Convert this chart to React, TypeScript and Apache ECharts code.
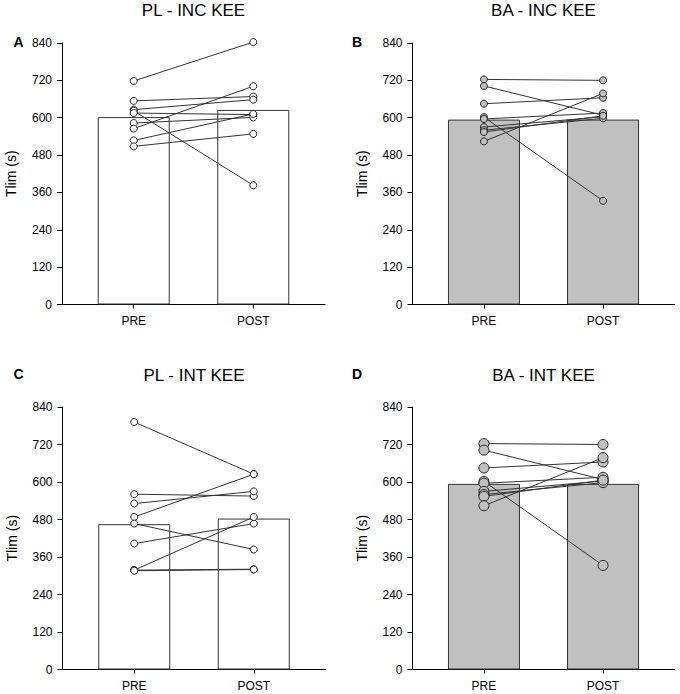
import React, { useEffect, useRef } from "react";
import * as echarts from "echarts";

const categories = ["PRE", "POST"];
const panelTitles = ["PL - INC KEE", "BA - INC KEE", "PL - INT KEE", "BA - INT KEE"];
const panelLetters = ["A", "B", "C", "D"];
const yAxisName = "Tlim (s)";

// Panel A: PL - INC KEE
const plIncPre = [718, 654, 626, 622, 615, 583, 565, 527, 508];
const plIncPost = [843, 668, 658, 383, 610, 601, 701, 612, 548];
const plIncMeans = [602, 625];
// Panel B: BA - INC KEE
const baIncPre = [723, 702, 645, 602, 596, 570, 560, 554, 524];
const baIncPost = [720, 608, 664, 333, 615, 603, 598, 606, 678];
const baIncMeans = [594, 594];
// Panel C: PL - INT KEE
const plIntPre = [792, 561, 531, 488, 467, 403, 318, 318, 316];
const plIntPost = [625, 555, 570, 625, 384, 467, 488, 321, 320];
const plIntMeans = [465, 483];
// Panel D: BA - INT KEE
const baIntPre = [723, 702, 645, 602, 596, 570, 560, 554, 524];
const baIntPost = [720, 608, 664, 333, 615, 603, 598, 606, 678];
const baIntMeans = [594, 594];

const FONT = "'Liberation Sans', Arial, sans-serif";

const panels = [
  { pre: plIncPre, post: plIncPost, means: plIncMeans, fill: "#ffffff", marker: "#ffffff", size: 7, grid: { left: 62, top: 43, width: 263, height: 261.5 }, titleY: 10, letterY: 42 },
  { pre: baIncPre, post: baIncPost, means: baIncMeans, fill: "#c0c0c0", marker: "#c0c0c0", size: 7, grid: { left: 412.5, top: 43, width: 262, height: 261.5 }, titleY: 10, letterY: 42 },
  { pre: plIntPre, post: plIntPost, means: plIntMeans, fill: "#ffffff", marker: "#ffffff", size: 7, grid: { left: 62.5, top: 407, width: 263, height: 262.5 }, titleY: 375, letterY: 374 },
  { pre: baIntPre, post: baIntPost, means: baIntMeans, fill: "#c0c0c0", marker: "#c0c0c0", size: 10, grid: { left: 412.5, top: 407, width: 262, height: 262.5 }, titleY: 375, letterY: 374 },
];

function buildOption() {
  const grid: any[] = [];
  const xAxis: any[] = [];
  const yAxis: any[] = [];
  const series: any[] = [];
  const graphic: any[] = [];

  panels.forEach((p, i) => {
    grid.push({ ...p.grid, containLabel: false });
    xAxis.push({
      type: "value",
      gridIndex: i,
      min: 0.4,
      max: 2.6,
      splitLine: { show: false },
      axisLine: { show: true, onZero: false, lineStyle: { color: "#000", width: 1 } },
      axisTick: { show: true, customValues: [1, 2], length: 4, lineStyle: { color: "#000" } },
      axisLabel: {
        customValues: [1, 2],
        formatter: (v: number) => categories[Math.round(v) - 1] || "",
        margin: 10,
        fontSize: 12,
        color: "#000",
        fontFamily: FONT,
      },
    });
    yAxis.push({
      type: "value",
      gridIndex: i,
      min: 0,
      max: 840,
      interval: 120,
      name: yAxisName,
      nameLocation: "middle",
      nameGap: 44,
      nameTextStyle: { fontSize: 14, color: "#000", fontFamily: FONT },
      splitLine: { show: false },
      axisLine: { show: true, onZero: false, lineStyle: { color: "#000", width: 1 } },
      axisTick: { show: true, length: 5, lineStyle: { color: "#000" } },
      axisLabel: { margin: 10, fontSize: 12, color: "#000", fontFamily: FONT },
    });
    series.push({
      type: "bar",
      xAxisIndex: i,
      yAxisIndex: i,
      data: p.means.map((m, k) => [k + 1, m]),
      barWidth: 72,
      itemStyle: { color: p.fill, borderColor: "#333", borderWidth: 1 },
      silent: true,
      z: 1,
    });
    p.pre.forEach((v, j) => {
      series.push({
        type: "line",
        xAxisIndex: i,
        yAxisIndex: i,
        data: [
          [1, v],
          [2, p.post[j]],
        ],
        symbol: "circle",
        symbolSize: p.size,
        showSymbol: true,
        showAllSymbol: true,
        clip: false,
        itemStyle: { color: p.marker, borderColor: "#222", borderWidth: 1 },
        lineStyle: { color: "#333", width: 1 },
        silent: true,
        z: 3,
      });
    });
    const cx = p.grid.left + p.grid.width / 2;
    graphic.push({
      type: "text",
      x: cx,
      y: p.titleY,
      style: {
        text: panelTitles[i],
        fill: "#000",
        font: `17px ${FONT}`,
        textAlign: "center",
        textVerticalAlign: "middle",
        align: "center",
        verticalAlign: "middle",
      },
    });
    graphic.push({
      type: "text",
      x: i % 2 === 0 ? 18.5 : 357,
      y: p.letterY,
      style: {
        text: panelLetters[i],
        fill: "#000",
        font: `bold 14px ${FONT}`,
        textAlign: "center",
        textVerticalAlign: "middle",
        align: "center",
        verticalAlign: "middle",
      },
    });
  });

  return {
    animation: false,
    backgroundColor: "#ffffff",
    textStyle: { fontFamily: FONT },
    grid,
    xAxis,
    yAxis,
    series,
    graphic,
  };
}

export default function App() {
  const ref = useRef<HTMLDivElement>(null);
  useEffect(() => {
    document.body.style.margin = "0";
    if (!ref.current) return;
    const chart = echarts.init(ref.current, null, { renderer: "svg" });
    chart.setOption(buildOption() as any);
    return () => chart.dispose();
  }, []);
  return <div ref={ref} style={{ width: 680, height: 694 }} />;
}
